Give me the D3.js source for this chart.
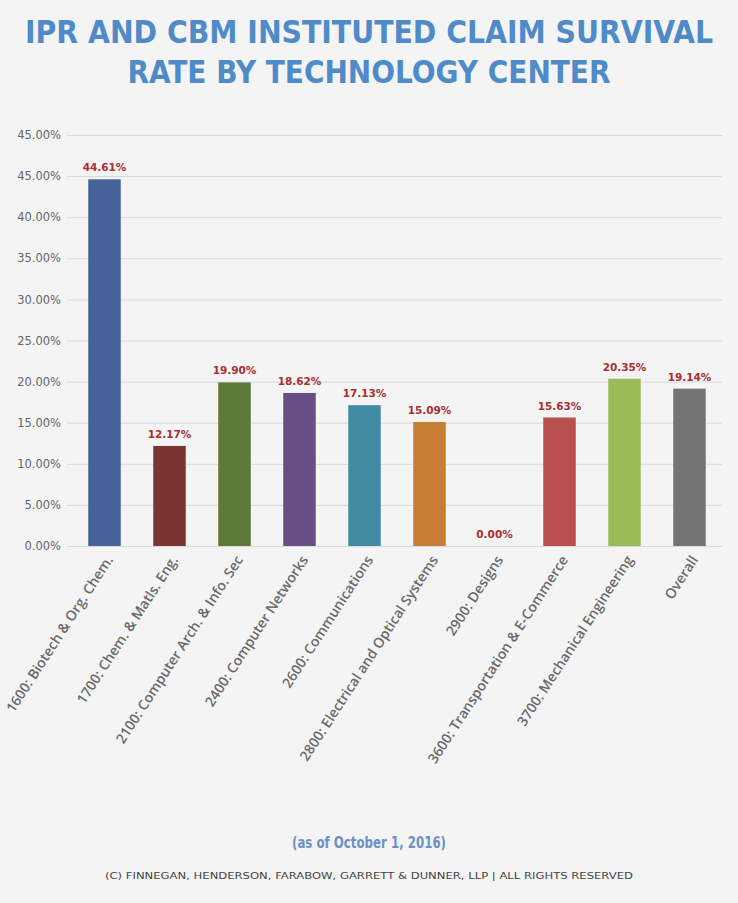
<!DOCTYPE html>
<html>
<head>
<meta charset="utf-8">
<script src="https://cdn.jsdelivr.net/npm/d3@7"></script>
<style>
  body { margin: 0; background: #f4f4f5; }
  svg { display: block; }
</style>
</head>
<body>
<svg id="chart" width="738" height="903"></svg>
<script>
// chart data
const categories = [
	"1600: Biotech & Org. Chem.",
	"1700: Chem. & Matls. Eng.",
	"2100: Computer Arch. & Info. Sec",
	"2400: Computer Networks",
	"2600: Communications",
	"2800: Electrical and Optical Systems",
	"2900: Designs",
	"3600: Transportation & E-Commerce",
	"3700: Mechanical Engineering",
	"Overall"
];
const rates = [44.61, 12.17, 19.90, 18.62, 17.13, 15.09, 0.00, 15.63, 20.35, 19.14];
const barColors = ["#476399", "#7a3431", "#5b7a39", "#674e85", "#418ba4",
	"#c87d37", "#9a9a9a", "#b94f4f", "#9bbb59", "#747474"];
// the original axis repeats the "45.00%" label at the top line
const tickValues = [0, 5, 10, 15, 20, 25, 30, 35, 40, 45, 50];
const tickLabels = ["0.00%", "5.00%", "10.00%", "15.00%", "20.00%", "25.00%",
	"30.00%", "35.00%", "40.00%", "45.00%", "45.00%"];

const svg = d3.select("#chart");
const width = 738;

const x = d3.scaleBand().domain(categories).range([72, 722]).paddingInner(0.5).paddingOuter(0.25);
const y = d3.scaleLinear().domain([0, 50]).range([546, 135]);

// title
const titleLines = ["IPR AND CBM INSTITUTED CLAIM SURVIVAL", "RATE BY TECHNOLOGY CENTER"];
const titleWidths = [688, 483];
svg.selectAll("text.title")
	.data(titleLines)
	.enter()
	.append("text")
	.attr("class", "title")
	.attr("x", width / 2)
	.attr("y", (d, i) => 43 + i * 40)
	.attr("text-anchor", "middle")
	.attr("textLength", (d, i) => titleWidths[i])
	.attr("lengthAdjust", "spacingAndGlyphs")
	.style("font-family", "'Liberation Sans Narrow', 'DejaVu Sans Condensed', sans-serif")
	.style("font-weight", "bold")
	.style("font-size", "32px")
	.style("fill", "#4f8bc8")
	.text(d => d);

// gridlines + y labels
const yAxis = d3.axisLeft(y)
	.tickValues(tickValues)
	.tickSize(-(722 - 67))
	.tickFormat((d, i) => tickLabels[i]);

const gAxis = svg.append("g")
	.attr("transform", "translate(67,0)")
	.call(yAxis);
gAxis.select(".domain").remove();
gAxis.selectAll(".tick line").attr("stroke", "#d9d9d9").attr("stroke-width", 1);
gAxis.selectAll(".tick text")
	.attr("x", -6)
	.style("font-family", "'DejaVu Sans', sans-serif")
	.style("font-size", "11.5px")
	.style("fill", "#666");

// bars
svg.selectAll("rect.bar")
	.data(rates)
	.enter()
	.append("rect")
	.attr("class", "bar")
	.attr("x", (d, i) => x(categories[i]))
	.attr("width", x.bandwidth())
	.attr("y", d => y(d))
	.attr("height", d => y(0) - y(d))
	.style("fill", (d, i) => barColors[i]);

// value labels
svg.selectAll("text.value")
	.data(rates)
	.enter()
	.append("text")
	.attr("class", "value")
	.attr("x", (d, i) => x(categories[i]) + x.bandwidth() / 2)
	.attr("y", d => y(d) - 8)
	.attr("text-anchor", "middle")
	.style("font-family", "'DejaVu Sans', sans-serif")
	.style("font-weight", "bold")
	.style("font-size", "10.5px")
	.style("fill", "#a8302f")
	.text(d => d.toFixed(2) + "%");

// category labels
svg.selectAll("text.cat")
	.data(categories)
	.enter()
	.append("text")
	.attr("class", "cat")
	.attr("transform", d => "translate(" + (x(d) + x.bandwidth() / 2 + 5) + ",557)rotate(-57)")
	.attr("text-anchor", "end")
	.attr("dy", "0.35em")
	.style("font-family", "'Open Sans', sans-serif")
	.style("font-weight", "600")
	.style("font-size", "14px")
	.style("fill", "#6a6a6a")
	.text(d => d);

// footer
svg.append("text")
	.attr("x", width / 2)
	.attr("y", 848)
	.attr("text-anchor", "middle")
	.attr("textLength", 154)
	.attr("lengthAdjust", "spacingAndGlyphs")
	.style("font-family", "'Liberation Sans Narrow', 'DejaVu Sans Condensed', sans-serif")
	.style("font-weight", "bold")
	.style("font-size", "15px")
	.style("fill", "#6b91c4")
	.text("(as of October 1, 2016)");

svg.append("text")
	.attr("x", width / 2)
	.attr("y", 879)
	.attr("text-anchor", "middle")
	.attr("textLength", 528)
	.attr("lengthAdjust", "spacingAndGlyphs")
	.style("font-family", "'DejaVu Sans', sans-serif")
	.style("font-size", "9.5px")
	.style("fill", "#444")
	.text("(C) FINNEGAN, HENDERSON, FARABOW, GARRETT & DUNNER, LLP | ALL RIGHTS RESERVED");
</script>
</body>
</html>
